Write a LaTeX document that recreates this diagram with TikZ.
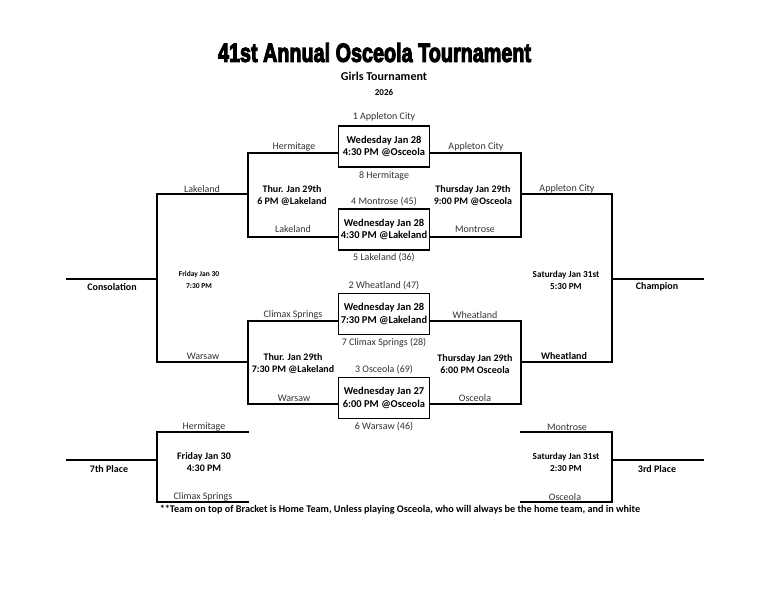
\documentclass[tikz,border=0pt]{standalone}
\usepackage{fontspec}
\setmainfont{Carlito}
\newfontfamily\titlefont[FakeBold=4.5]{Liberation Sans}
\usetikzlibrary{calc}
\definecolor{lbl}{gray}{0.2}
\begin{document}
\begin{tikzpicture}[x=1pt,y=-1pt,
  every node/.style={inner sep=0pt},
  wire/.style={line width=1.2pt,line cap=rect},
  gamebox/.style={draw,line width=1.3pt,minimum width=91pt,minimum height=41pt,align=center,font=\fontsize{10.5}{12.5}\selectfont\bfseries},
  team/.style={font=\fontsize{10}{12}\selectfont,text=lbl},
  info/.style={align=center,font=\fontsize{10}{12}\selectfont\bfseries},
  infosm/.style={align=center,font=\fontsize{7.5}{12}\selectfont\bfseries},
  infomd/.style={align=center,font=\fontsize{9.2}{12}\selectfont\bfseries},
  place/.style={font=\fontsize{10}{12}\selectfont\bfseries}]
\useasboundingbox[fill=white] (0,0) rectangle (783,612);

% titles
\node (title) at (374.5,52.5) {\resizebox{313pt}{19pt}{\titlefont\bfseries 41st Annual Osceola Tournament}};
\node[font=\fontsize{12}{14}\selectfont\bfseries] (sub) at (384,76) {Girls Tournament};
\node[font=\fontsize{9}{11}\selectfont\bfseries] (year) at (384,92) {2026};

% first round games
\node[gamebox] (g1) at (384,146.5) {Wedesday Jan 28\\4:30 PM @Osceola};
\node[gamebox] (g2) at (384,229.5) {Wednesday Jan 28\\4:30 PM @Lakeland};
\node[gamebox] (g3) at (384,314) {Wednesday Jan 28\\7:30 PM @Lakeland};
\node[gamebox] (g4) at (384,398) {Wednesday Jan 27\\6:00 PM @Osceola};

% junction coordinates
\coordinate (la1) at (248,153); \coordinate (la2) at (248,237); \coordinate (lam) at (248,194);
\coordinate (lb1) at (248,321); \coordinate (lb2) at (248,404); \coordinate (lbm) at (248,362);
\coordinate (lc1) at (157,194); \coordinate (lc2) at (157,362); \coordinate (lcm) at (157,279);
\coordinate (lcend) at (67,279);
\coordinate (ra1) at (521,153); \coordinate (ra2) at (521,237); \coordinate (ram) at (521,194);
\coordinate (rb1) at (521,321); \coordinate (rb2) at (521,404); \coordinate (rbm) at (521,362);
\coordinate (rc1) at (612,194); \coordinate (rc2) at (612,362); \coordinate (rcm) at (612,279);
\coordinate (rcend) at (703,279);
\coordinate (ls1) at (248,432); \coordinate (ls2) at (248,502);
\coordinate (lsa) at (157,432); \coordinate (lsb) at (157,502); \coordinate (lsm) at (157,460);
\coordinate (lsend) at (67,460);
\coordinate (rs1) at (521,432); \coordinate (rs2) at (521,502);
\coordinate (rsa) at (612,432); \coordinate (rsb) at (612,502); \coordinate (rsm) at (612,460);
\coordinate (rsend) at (703,460);

% connectors
\draw[wire] (g1.west |- la1) -- (la1) -- (la2) -- (g2.west |- la2);
\draw[wire] (g3.west |- lb1) -- (lb1) -- (lb2) -- (g4.west |- lb2);
\draw[wire] (g1.east |- ra1) -- (ra1) -- (ra2) -- (g2.east |- ra2);
\draw[wire] (g3.east |- rb1) -- (rb1) -- (rb2) -- (g4.east |- rb2);
\draw[wire] (lam) -- (lc1) -- (lc2) -- (lbm);
\draw[wire] (lcm) -- (lcend);
\draw[wire] (ram) -- (rc1) -- (rc2) -- (rbm);
\draw[wire] (rcm) -- (rcend);
\draw[wire] (ls1) -- (lsa) -- (lsb) -- (ls2);
\draw[wire] (lsm) -- (lsend);
\draw[wire] (rs1) -- (rsa) -- (rsb) -- (rs2);
\draw[wire] (rsm) -- (rsend);

% seeds
\node[team] (s1) at (384,117) {1 Appleton City};
\node[team] (s8) at (384,176) {8 Hermitage};
\node[team] (s4) at (384,202) {4 Montrose (45)};
\node[team] (s5) at (384,258) {5 Lakeland (36)};
\node[team] (s2) at (384,286) {2 Wheatland (47)};
\node[team] (s7) at (384,343) {7 Climax Springs (28)};
\node[team] (s3) at (384,370) {3 Osceola (69)};
\node[team] (s6) at (384,427) {6 Warsaw (46)};

% advancing teams
\node[team] (t1) at (294,147) {Hermitage};
\node[team] (t2) at (476,147) {Appleton City};
\node[team] (t3) at (293,229) {Lakeland};
\node[team] (t4) at (475,229) {Montrose};
\node[team] (t5) at (202,189) {Lakeland};
\node[team] (t6) at (567,189) {Appleton City};
\node[team] (t7) at (293,315) {Climax Springs};
\node[team] (t8) at (475,315) {Wheatland};
\node[team] (t9) at (294,398) {Warsaw};
\node[team] (t10) at (475,398) {Osceola};
\node[team] (t11) at (203,356) {Warsaw};
\node[place] (t12) at (564,356) {Wheatland};
\node[team] (t13) at (204,427) {Hermitage};
\node[team] (t14) at (203,497) {Climax Springs};
\node[team] (t15) at (567,427) {Montrose};
\node[team] (t16) at (565,497) {Osceola};

% game info
\node[info] (i1) at (292,195.5) {Thur. Jan 29th\\6 PM @Lakeland};
\node[info] (i2) at (473,196) {Thursday Jan 29th\\9:00 PM @Osceola};
\node[info] (i3) at (293,364) {Thur. Jan 29th\\7:30 PM @Lakeland};
\node[info] (i4) at (475,364) {Thursday Jan 29th\\6:00 PM Osceola};
\node[infosm] (i5) at (199,280) {Friday Jan 30\\7:30 PM};
\node[infomd] (i6) at (566,280) {Saturday Jan 31st\\5:30 PM};
\node[info] (i7) at (204,462) {Friday Jan 30\\4:30 PM};
\node[infomd] (i8) at (566,462) {Saturday Jan 31st\\2:30 PM};

% places
\node[place] (p1) at (112,287) {Consolation};
\node[place] (p2) at (657,287) {Champion};
\node[place] (p3) at (109,469) {7th Place};
\node[place] (p4) at (657,469) {3rd Place};

\node[font=\fontsize{10.2}{12}\selectfont\bfseries] (note) at (400,510) {**Team on top of Bracket is Home Team, Unless playing Osceola, who will always be the home team, and in white};
\end{tikzpicture}
\end{document}
